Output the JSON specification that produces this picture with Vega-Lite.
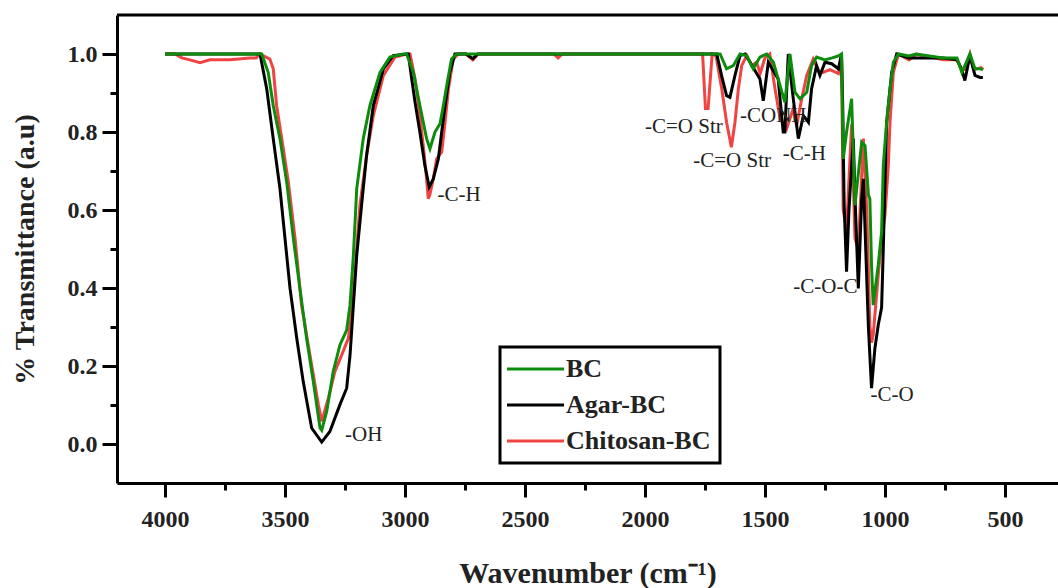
{
  "$schema": "https://vega.github.io/schema/vega-lite/v6.json",
  "width": 941,
  "height": 468,
  "autosize": {"type": "none"},
  "padding": {"left": 117, "top": 15, "right": 0, "bottom": 105},
  "background": "white",
  "config": {"view": {"stroke": null}},
  "datasets": {
    "spectra": [
      {"s":"Chitosan-BC","wn":4000,"t":1.0},{"s":"Chitosan-BC","wn":3958,"t":1.0},{"s":"Chitosan-BC","wn":3930,"t":0.99},{"s":"Chitosan-BC","wn":3896,"t":0.985},{"s":"Chitosan-BC","wn":3854,"t":0.978},{"s":"Chitosan-BC","wn":3813,"t":0.985},{"s":"Chitosan-BC","wn":3729,"t":0.985},{"s":"Chitosan-BC","wn":3646,"t":0.99},{"s":"Chitosan-BC","wn":3620,"t":0.99},{"s":"Chitosan-BC","wn":3604,"t":1.0},{"s":"Chitosan-BC","wn":3563,"t":0.987},{"s":"Chitosan-BC","wn":3549,"t":0.962},{"s":"Chitosan-BC","wn":3535,"t":0.868},{"s":"Chitosan-BC","wn":3507,"t":0.757},{"s":"Chitosan-BC","wn":3486,"t":0.672},{"s":"Chitosan-BC","wn":3458,"t":0.527},{"s":"Chitosan-BC","wn":3431,"t":0.356},{"s":"Chitosan-BC","wn":3396,"t":0.228},{"s":"Chitosan-BC","wn":3361,"t":0.101},{"s":"Chitosan-BC","wn":3347,"t":0.058},{"s":"Chitosan-BC","wn":3319,"t":0.118},{"s":"Chitosan-BC","wn":3292,"t":0.186},{"s":"Chitosan-BC","wn":3264,"t":0.228},{"s":"Chitosan-BC","wn":3236,"t":0.271},{"s":"Chitosan-BC","wn":3222,"t":0.339},{"s":"Chitosan-BC","wn":3208,"t":0.442},{"s":"Chitosan-BC","wn":3188,"t":0.612},{"s":"Chitosan-BC","wn":3160,"t":0.74},{"s":"Chitosan-BC","wn":3132,"t":0.842},{"s":"Chitosan-BC","wn":3090,"t":0.945},{"s":"Chitosan-BC","wn":3042,"t":0.992},{"s":"Chitosan-BC","wn":2993,"t":1.0},{"s":"Chitosan-BC","wn":2979,"t":1.0},{"s":"Chitosan-BC","wn":2958,"t":0.936},{"s":"Chitosan-BC","wn":2938,"t":0.842},{"s":"Chitosan-BC","wn":2924,"t":0.765},{"s":"Chitosan-BC","wn":2910,"t":0.68},{"s":"Chitosan-BC","wn":2903,"t":0.629},{"s":"Chitosan-BC","wn":2896,"t":0.64},{"s":"Chitosan-BC","wn":2882,"t":0.68},{"s":"Chitosan-BC","wn":2868,"t":0.731},{"s":"Chitosan-BC","wn":2847,"t":0.749},{"s":"Chitosan-BC","wn":2833,"t":0.825},{"s":"Chitosan-BC","wn":2819,"t":0.91},{"s":"Chitosan-BC","wn":2799,"t":0.987},{"s":"Chitosan-BC","wn":2778,"t":1.0},{"s":"Chitosan-BC","wn":2746,"t":1.0},{"s":"Chitosan-BC","wn":2717,"t":0.985},{"s":"Chitosan-BC","wn":2696,"t":1.0},{"s":"Chitosan-BC","wn":2380,"t":1.0},{"s":"Chitosan-BC","wn":2362,"t":0.99},{"s":"Chitosan-BC","wn":2345,"t":1.0},{"s":"Chitosan-BC","wn":1760,"t":1.0},{"s":"Chitosan-BC","wn":1748,"t":0.86},{"s":"Chitosan-BC","wn":1737,"t":0.86},{"s":"Chitosan-BC","wn":1720,"t":1.0},{"s":"Chitosan-BC","wn":1704,"t":0.995},{"s":"Chitosan-BC","wn":1680,"t":0.91},{"s":"Chitosan-BC","wn":1660,"t":0.825},{"s":"Chitosan-BC","wn":1640,"t":0.761},{"s":"Chitosan-BC","wn":1625,"t":0.825},{"s":"Chitosan-BC","wn":1611,"t":0.91},{"s":"Chitosan-BC","wn":1597,"t":0.97},{"s":"Chitosan-BC","wn":1576,"t":0.996},{"s":"Chitosan-BC","wn":1555,"t":0.97},{"s":"Chitosan-BC","wn":1535,"t":0.979},{"s":"Chitosan-BC","wn":1520,"t":0.95},{"s":"Chitosan-BC","wn":1500,"t":0.99},{"s":"Chitosan-BC","wn":1480,"t":1.0},{"s":"Chitosan-BC","wn":1458,"t":0.91},{"s":"Chitosan-BC","wn":1437,"t":0.834},{"s":"Chitosan-BC","wn":1410,"t":0.808},{"s":"Chitosan-BC","wn":1383,"t":0.859},{"s":"Chitosan-BC","wn":1368,"t":0.817},{"s":"Chitosan-BC","wn":1347,"t":0.885},{"s":"Chitosan-BC","wn":1326,"t":0.945},{"s":"Chitosan-BC","wn":1299,"t":0.987},{"s":"Chitosan-BC","wn":1271,"t":0.95},{"s":"Chitosan-BC","wn":1229,"t":0.96},{"s":"Chitosan-BC","wn":1194,"t":0.95},{"s":"Chitosan-BC","wn":1181,"t":0.99},{"s":"Chitosan-BC","wn":1174,"t":0.6},{"s":"Chitosan-BC","wn":1160,"t":0.55},{"s":"Chitosan-BC","wn":1139,"t":0.82},{"s":"Chitosan-BC","wn":1125,"t":0.527},{"s":"Chitosan-BC","wn":1111,"t":0.5},{"s":"Chitosan-BC","wn":1090,"t":0.783},{"s":"Chitosan-BC","wn":1076,"t":0.6},{"s":"Chitosan-BC","wn":1063,"t":0.305},{"s":"Chitosan-BC","wn":1056,"t":0.26},{"s":"Chitosan-BC","wn":1049,"t":0.28},{"s":"Chitosan-BC","wn":1028,"t":0.433},{"s":"Chitosan-BC","wn":1014,"t":0.527},{"s":"Chitosan-BC","wn":1000,"t":0.586},{"s":"Chitosan-BC","wn":986,"t":0.714},{"s":"Chitosan-BC","wn":979,"t":0.825},{"s":"Chitosan-BC","wn":965,"t":0.953},{"s":"Chitosan-BC","wn":944,"t":1.0},{"s":"Chitosan-BC","wn":900,"t":0.985},{"s":"Chitosan-BC","wn":870,"t":1.0},{"s":"Chitosan-BC","wn":758,"t":0.985},{"s":"Chitosan-BC","wn":700,"t":0.985},{"s":"Chitosan-BC","wn":680,"t":0.96},{"s":"Chitosan-BC","wn":667,"t":0.96},{"s":"Chitosan-BC","wn":646,"t":1.0},{"s":"Chitosan-BC","wn":630,"t":0.96},{"s":"Chitosan-BC","wn":600,"t":0.965},{"s":"Chitosan-BC","wn":590,"t":0.96},
      {"s":"Agar-BC","wn":4000,"t":1.0},{"s":"Agar-BC","wn":3618,"t":1.0},{"s":"Agar-BC","wn":3604,"t":1.0},{"s":"Agar-BC","wn":3576,"t":0.91},{"s":"Agar-BC","wn":3549,"t":0.783},{"s":"Agar-BC","wn":3521,"t":0.655},{"s":"Agar-BC","wn":3500,"t":0.527},{"s":"Agar-BC","wn":3479,"t":0.399},{"s":"Agar-BC","wn":3451,"t":0.271},{"s":"Agar-BC","wn":3424,"t":0.16},{"s":"Agar-BC","wn":3389,"t":0.041},{"s":"Agar-BC","wn":3347,"t":0.005},{"s":"Agar-BC","wn":3313,"t":0.032},{"s":"Agar-BC","wn":3271,"t":0.101},{"s":"Agar-BC","wn":3243,"t":0.143},{"s":"Agar-BC","wn":3229,"t":0.228},{"s":"Agar-BC","wn":3215,"t":0.356},{"s":"Agar-BC","wn":3201,"t":0.484},{"s":"Agar-BC","wn":3181,"t":0.612},{"s":"Agar-BC","wn":3160,"t":0.74},{"s":"Agar-BC","wn":3132,"t":0.868},{"s":"Agar-BC","wn":3090,"t":0.962},{"s":"Agar-BC","wn":3049,"t":0.996},{"s":"Agar-BC","wn":2993,"t":1.0},{"s":"Agar-BC","wn":2986,"t":1.0},{"s":"Agar-BC","wn":2972,"t":0.936},{"s":"Agar-BC","wn":2958,"t":0.876},{"s":"Agar-BC","wn":2938,"t":0.8},{"s":"Agar-BC","wn":2917,"t":0.714},{"s":"Agar-BC","wn":2899,"t":0.659},{"s":"Agar-BC","wn":2882,"t":0.68},{"s":"Agar-BC","wn":2861,"t":0.731},{"s":"Agar-BC","wn":2847,"t":0.8},{"s":"Agar-BC","wn":2833,"t":0.868},{"s":"Agar-BC","wn":2813,"t":0.953},{"s":"Agar-BC","wn":2792,"t":1.0},{"s":"Agar-BC","wn":2746,"t":1.0},{"s":"Agar-BC","wn":2717,"t":0.988},{"s":"Agar-BC","wn":2696,"t":1.0},{"s":"Agar-BC","wn":1701,"t":1.0},{"s":"Agar-BC","wn":1681,"t":0.945},{"s":"Agar-BC","wn":1660,"t":0.893},{"s":"Agar-BC","wn":1646,"t":0.889},{"s":"Agar-BC","wn":1625,"t":0.945},{"s":"Agar-BC","wn":1604,"t":0.996},{"s":"Agar-BC","wn":1583,"t":1.0},{"s":"Agar-BC","wn":1562,"t":0.979},{"s":"Agar-BC","wn":1521,"t":0.936},{"s":"Agar-BC","wn":1507,"t":0.88},{"s":"Agar-BC","wn":1486,"t":0.979},{"s":"Agar-BC","wn":1445,"t":0.936},{"s":"Agar-BC","wn":1424,"t":0.8},{"s":"Agar-BC","wn":1417,"t":0.8},{"s":"Agar-BC","wn":1403,"t":1.0},{"s":"Agar-BC","wn":1382,"t":0.885},{"s":"Agar-BC","wn":1361,"t":0.783},{"s":"Agar-BC","wn":1340,"t":0.842},{"s":"Agar-BC","wn":1319,"t":0.825},{"s":"Agar-BC","wn":1306,"t":0.91},{"s":"Agar-BC","wn":1285,"t":0.97},{"s":"Agar-BC","wn":1271,"t":0.945},{"s":"Agar-BC","wn":1250,"t":0.979},{"s":"Agar-BC","wn":1222,"t":0.975},{"s":"Agar-BC","wn":1194,"t":0.962},{"s":"Agar-BC","wn":1181,"t":1.0},{"s":"Agar-BC","wn":1176,"t":0.868},{"s":"Agar-BC","wn":1170,"t":0.612},{"s":"Agar-BC","wn":1160,"t":0.442},{"s":"Agar-BC","wn":1150,"t":0.6},{"s":"Agar-BC","wn":1132,"t":0.783},{"s":"Agar-BC","wn":1125,"t":0.638},{"s":"Agar-BC","wn":1111,"t":0.399},{"s":"Agar-BC","wn":1097,"t":0.629},{"s":"Agar-BC","wn":1090,"t":0.68},{"s":"Agar-BC","wn":1083,"t":0.552},{"s":"Agar-BC","wn":1069,"t":0.3},{"s":"Agar-BC","wn":1056,"t":0.143},{"s":"Agar-BC","wn":1042,"t":0.245},{"s":"Agar-BC","wn":1028,"t":0.305},{"s":"Agar-BC","wn":1014,"t":0.35},{"s":"Agar-BC","wn":1007,"t":0.5},{"s":"Agar-BC","wn":1000,"t":0.663},{"s":"Agar-BC","wn":993,"t":0.825},{"s":"Agar-BC","wn":972,"t":0.953},{"s":"Agar-BC","wn":951,"t":1.0},{"s":"Agar-BC","wn":900,"t":0.99},{"s":"Agar-BC","wn":758,"t":0.99},{"s":"Agar-BC","wn":700,"t":0.985},{"s":"Agar-BC","wn":680,"t":0.96},{"s":"Agar-BC","wn":667,"t":0.932},{"s":"Agar-BC","wn":646,"t":0.996},{"s":"Agar-BC","wn":625,"t":0.945},{"s":"Agar-BC","wn":604,"t":0.94},{"s":"Agar-BC","wn":592,"t":0.94},
      {"s":"BC","wn":4000,"t":1.0},{"s":"BC","wn":3612,"t":1.0},{"s":"BC","wn":3597,"t":1.0},{"s":"BC","wn":3570,"t":0.953},{"s":"BC","wn":3549,"t":0.868},{"s":"BC","wn":3521,"t":0.783},{"s":"BC","wn":3493,"t":0.672},{"s":"BC","wn":3465,"t":0.527},{"s":"BC","wn":3438,"t":0.399},{"s":"BC","wn":3410,"t":0.271},{"s":"BC","wn":3382,"t":0.16},{"s":"BC","wn":3354,"t":0.041},{"s":"BC","wn":3347,"t":0.035},{"s":"BC","wn":3326,"t":0.084},{"s":"BC","wn":3299,"t":0.186},{"s":"BC","wn":3271,"t":0.254},{"s":"BC","wn":3243,"t":0.292},{"s":"BC","wn":3229,"t":0.356},{"s":"BC","wn":3215,"t":0.484},{"s":"BC","wn":3201,"t":0.655},{"s":"BC","wn":3174,"t":0.783},{"s":"BC","wn":3146,"t":0.868},{"s":"BC","wn":3104,"t":0.953},{"s":"BC","wn":3063,"t":0.992},{"s":"BC","wn":3007,"t":1.0},{"s":"BC","wn":2993,"t":1.0},{"s":"BC","wn":2965,"t":0.953},{"s":"BC","wn":2938,"t":0.868},{"s":"BC","wn":2910,"t":0.783},{"s":"BC","wn":2896,"t":0.757},{"s":"BC","wn":2875,"t":0.8},{"s":"BC","wn":2854,"t":0.821},{"s":"BC","wn":2840,"t":0.868},{"s":"BC","wn":2826,"t":0.919},{"s":"BC","wn":2806,"t":0.987},{"s":"BC","wn":2785,"t":1.0},{"s":"BC","wn":1687,"t":1.0},{"s":"BC","wn":1660,"t":0.962},{"s":"BC","wn":1632,"t":0.97},{"s":"BC","wn":1604,"t":1.0},{"s":"BC","wn":1576,"t":0.996},{"s":"BC","wn":1549,"t":0.962},{"s":"BC","wn":1521,"t":0.992},{"s":"BC","wn":1493,"t":1.0},{"s":"BC","wn":1465,"t":0.979},{"s":"BC","wn":1437,"t":0.919},{"s":"BC","wn":1417,"t":0.876},{"s":"BC","wn":1403,"t":0.96},{"s":"BC","wn":1396,"t":1.0},{"s":"BC","wn":1375,"t":0.902},{"s":"BC","wn":1354,"t":0.885},{"s":"BC","wn":1326,"t":0.902},{"s":"BC","wn":1306,"t":0.97},{"s":"BC","wn":1285,"t":0.992},{"s":"BC","wn":1250,"t":0.985},{"s":"BC","wn":1220,"t":0.99},{"s":"BC","wn":1194,"t":0.995},{"s":"BC","wn":1181,"t":1.0},{"s":"BC","wn":1174,"t":0.731},{"s":"BC","wn":1160,"t":0.8},{"s":"BC","wn":1139,"t":0.885},{"s":"BC","wn":1125,"t":0.612},{"s":"BC","wn":1097,"t":0.774},{"s":"BC","wn":1083,"t":0.765},{"s":"BC","wn":1069,"t":0.638},{"s":"BC","wn":1063,"t":0.629},{"s":"BC","wn":1056,"t":0.459},{"s":"BC","wn":1049,"t":0.356},{"s":"BC","wn":1028,"t":0.459},{"s":"BC","wn":1014,"t":0.544},{"s":"BC","wn":1007,"t":0.714},{"s":"BC","wn":993,"t":0.825},{"s":"BC","wn":979,"t":0.91},{"s":"BC","wn":965,"t":0.979},{"s":"BC","wn":944,"t":1.0},{"s":"BC","wn":900,"t":0.995},{"s":"BC","wn":870,"t":1.0},{"s":"BC","wn":758,"t":0.99},{"s":"BC","wn":700,"t":0.99},{"s":"BC","wn":680,"t":0.953},{"s":"BC","wn":667,"t":0.97},{"s":"BC","wn":646,"t":1.0},{"s":"BC","wn":625,"t":0.962},{"s":"BC","wn":604,"t":0.962},{"s":"BC","wn":592,"t":0.96}
    ],
    "notes": [
      {"label":"-OH","wn":3250,"t":0.023},
      {"label":"-C-H","wn":2865,"t":0.638},
      {"label":"-C=O Str","wn":2000,"t":0.8125},
      {"label":"-CONH","wn":1604,"t":0.842},
      {"label":"-C=O Str","wn":1799,"t":0.7256},
      {"label":"-C-H","wn":1426,"t":0.744},
      {"label":"-C-O-C","wn":1382,"t":0.403},
      {"label":"-C-O","wn":1060,"t":0.126}
    ]
  },
  "layer": [
    {
      "data": {"name": "spectra"},
      "mark": {"type": "line", "strokeWidth": 3},
      "encoding": {
        "x": {
          "field": "wn", "type": "quantitative",
          "scale": {"domain": [279, 4200], "reverse": true, "nice": false, "zero": false},
          "axis": {
            "orient": "bottom", "values": [4000, 3500, 3000, 2500, 2000, 1500, 1000, 500], "format": "d",
            "grid": false, "tickSize": 14, "tickWidth": 3, "tickColor": "black",
            "domainWidth": 3, "domainColor": "black",
            "labelFont": "Liberation Serif", "labelFontWeight": "bold", "labelFontSize": 24,
            "labelColor": "#222", "labelPadding": 10, "labelFlush": false, "labelOverlap": false,
            "title": "Wavenumber (cm⁻¹)", "titleFont": "Liberation Serif", "titleFontWeight": "bold",
            "titleFontSize": 30, "titleColor": "#222", "titleBaseline": "alphabetic", "titleY": 99
          }
        },
        "y": {
          "field": "t", "type": "quantitative",
          "scale": {"domain": [-0.1, 1.1], "nice": false, "zero": false},
          "axis": {
            "orient": "left", "values": [0, 0.2, 0.4, 0.6, 0.8, 1.0], "format": ".1f",
            "grid": false, "tickSize": 15, "tickWidth": 3, "tickColor": "black",
            "domainWidth": 3, "domainColor": "black",
            "labelFont": "Liberation Serif", "labelFontWeight": "bold", "labelFontSize": 24,
            "labelColor": "#222", "labelPadding": 5, "labelFlush": false, "labelOverlap": false,
            "title": "% Transmittance (a.u)", "titleFont": "Liberation Serif", "titleFontWeight": "bold",
            "titleFontSize": 28, "titleColor": "#222", "titleAngle": -90, "titleBaseline": "alphabetic",
            "titleX": -84, "titleY": 234
          }
        },
        "color": {
          "field": "s", "type": "nominal",
          "scale": {"domain": ["BC", "Agar-BC", "Chitosan-BC"], "range": ["#0c8c0c", "#000000", "#f04444"]},
          "legend": {
            "orient": "none", "legendX": 383, "legendY": 332, "title": null,
            "strokeColor": "black", "fillColor": "white", "padding": 9,
            "symbolType": "M -1.5 0 H 4.2", "symbolSize": 400, "symbolStrokeWidth": 3,
            "labelFont": "Liberation Serif", "labelFontWeight": "bold", "labelFontSize": 26,
            "labelColor": "#222", "labelOffset": 31, "rowPadding": 10, "labelLimit": 400,
            "encode": {"legend": {"update": {"strokeWidth": {"value": 3}}}}
          }
        }
      }
    },
    {
      "data": {"name": "notes"},
      "mark": {"type": "text", "align": "left", "baseline": "middle", "font": "Liberation Serif", "fontSize": 21, "color": "#222"},
      "encoding": {
        "x": {
          "field": "wn", "type": "quantitative",
          "scale": {"domain": [279, 4200], "reverse": true, "nice": false, "zero": false},
          "axis": {"orient": "bottom", "values": [3750, 3250, 2750, 2250, 1750, 1250, 750], "labels": false, "domain": false, "grid": false, "tickSize": 7, "tickWidth": 3, "tickColor": "black", "title": null}
        },
        "y": {
          "field": "t", "type": "quantitative",
          "scale": {"domain": [-0.1, 1.1], "nice": false, "zero": false},
          "axis": {"orient": "left", "values": [0.1, 0.3, 0.5, 0.7, 0.9], "labels": false, "domain": false, "grid": false, "tickSize": 7, "tickWidth": 3, "tickColor": "black", "title": null}
        },
        "text": {"field": "label"}
      }
    },
    {
      "data": {"values": [{}]},
      "mark": {"type": "rule", "strokeWidth": 3, "color": "black"},
      "encoding": {"y": {"datum": 1.1, "axis": null}}
    }
  ],
  "resolve": {"axis": {"x": "independent", "y": "independent"}}
}
